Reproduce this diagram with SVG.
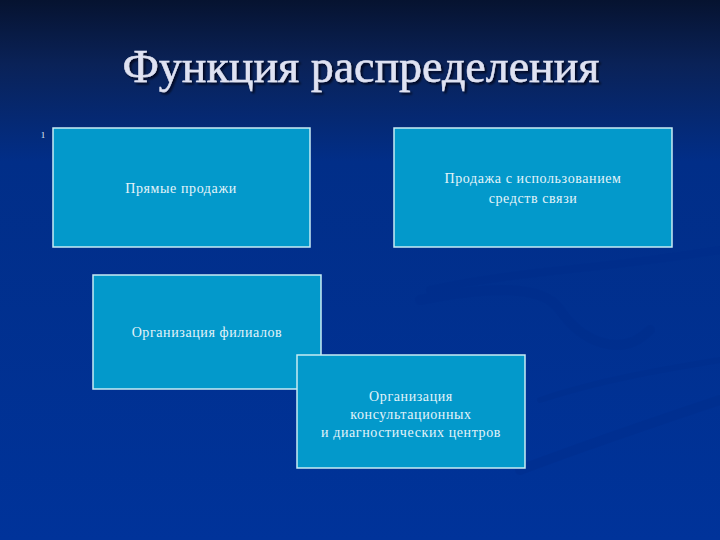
<svg xmlns="http://www.w3.org/2000/svg" width="720" height="540" viewBox="0 0 720 540">
<defs>
<linearGradient id="bg" x1="0" y1="0" x2="0" y2="1">
<stop offset="0" stop-color="#061330"/>
<stop offset="0.12" stop-color="#0a2258"/>
<stop offset="0.3" stop-color="#012e88"/>
<stop offset="1" stop-color="#00339a"/>
</linearGradient>
<filter id="sh" x="-5%" y="-20%" width="110%" height="140%">
<feDropShadow dx="2" dy="2" stdDeviation="1" flood-color="#000010" flood-opacity="0.8"/>
</filter>
</defs>
<style>
.box{fill:#0399cb;stroke:#c8ecf4;stroke-width:1.5}
.t{font-family:"Liberation Serif","DejaVu Serif",serif;font-size:14px;letter-spacing:0.6px;fill:#e4f4fa;text-anchor:middle}
.title{font-family:"Liberation Serif","DejaVu Serif",serif;font-size:46px;fill:#dfe2f2;text-anchor:middle;stroke:#dfe2f2;stroke-width:0.5}
.sw{fill:none;stroke:#002c8a;stroke-linecap:round}
</style>
<rect width="720" height="540" fill="url(#bg)"/>
<g opacity="0.35">
<path class="sw" stroke-width="10" d="M420 300 C 470 290 540 280 560 310 C 580 340 620 360 650 330"/>
<path class="sw" stroke-width="8" d="M430 290 C 520 270 600 270 720 250"/>
<path class="sw" stroke-width="10" d="M520 470 C 600 440 660 420 720 400"/>
<path class="sw" stroke-width="6" d="M540 400 C 600 380 660 370 720 360"/>
</g>
<text class="title" x="361" y="82" filter="url(#sh)">Функция распределения</text>
<text x="43" y="138" font-family="Liberation Serif, serif" font-size="9" fill="#e4f4fa" text-anchor="middle">1</text>
<g id="node1">
<rect class="box" x="53" y="128" width="257" height="119"/>
<text class="t" x="181" y="193">Прямые продажи</text>
</g>
<g id="node2">
<rect class="box" x="394" y="128" width="278" height="119"/>
<text class="t" x="533" y="183">Продажа с использованием</text>
<text class="t" x="533" y="203">средств связи</text>
</g>
<g id="node3">
<rect class="box" x="93" y="275" width="228" height="114"/>
<text class="t" x="207" y="337">Организация филиалов</text>
</g>
<g id="node4">
<rect class="box" x="297" y="355" width="228" height="113"/>
<text class="t" x="411" y="401">Организация</text>
<text class="t" x="411" y="419">консультационных</text>
<text class="t" x="411" y="437">и диагностических центров</text>
</g>
<g id="connectors"/>
</svg>
